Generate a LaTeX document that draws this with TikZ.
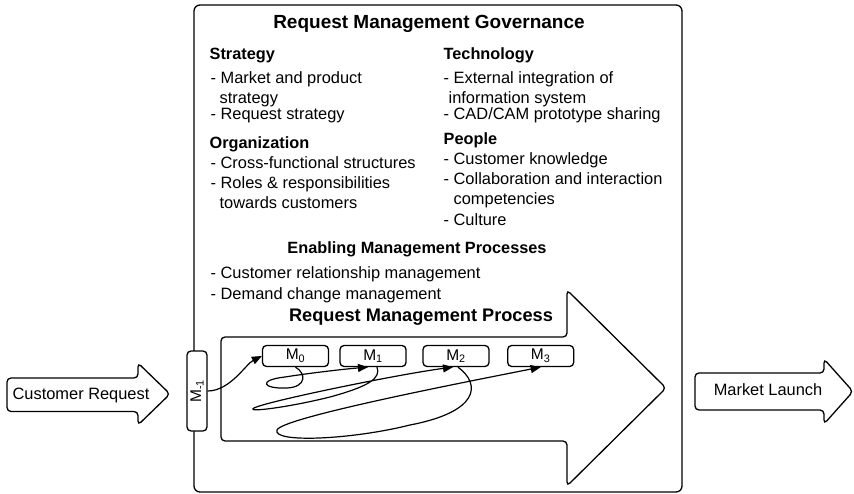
\documentclass[tikz,border=0pt]{standalone}
\usepackage{fontspec}
\setmainfont{Liberation Sans}
\usetikzlibrary{arrows.meta}
\begin{document}
\begin{tikzpicture}[x=1pt,y=-1pt,line width=1.3pt,
  txt/.style={anchor=base west,inner sep=0pt,font=\fontsize{16.4}{19}\selectfont},
  head/.style={txt,font=\fontsize{16.3}{19}\selectfont\bfseries},
  mbox/.style={draw,rounded corners=4pt,fill=white,minimum width=66pt,minimum height=21pt,inner sep=0pt,font=\fontsize{15.5}{18}\selectfont},
  flow/.style={line width=1.2pt,-{Triangle[length=10pt,width=8pt]}}]
  \useasboundingbox (0,0) rectangle (854,494);
  % governance box
  \draw[rounded corners=6pt] (194,5) rectangle (682,492);
  \node[anchor=base,inner sep=0pt,font=\fontsize{19}{22}\selectfont\bfseries] (gov) at (429,29) {Request Management Governance};
  \node[head] (strat) at (209,60) {Strategy};
  \node[txt] (s1) at (210,83.5) {- Market and product};
  \node[txt] (s1b) at (219,103.5) {strategy};
  \node[txt] (s2) at (210,120) {- Request strategy};
  \node[head] (org) at (209,149) {Organization};
  \node[txt] (o1) at (210,168.5) {- Cross-functional structures};
  \node[txt] (o2) at (210,188.5) {- Roles \& responsibilities};
  \node[txt] (o2b) at (219,208.5) {towards customers};
  \node[head] (tech) at (443,60) {Technology};
  \node[txt] (t1) at (443,83.5) {- External integration of};
  \node[txt] (t1b) at (448,103.5) {information system};
  \node[txt] (t2) at (443,120) {- CAD/CAM prototype sharing};
  \node[head] (peop) at (443,145) {People};
  \node[txt] (p1) at (443,165) {- Customer knowledge};
  \node[txt] (p2) at (443,185) {- Collaboration and interaction};
  \node[txt] (p2b) at (453,205) {competencies};
  \node[txt] (p3) at (443,226) {- Culture};
  \node[head,anchor=base] (enab) at (417,253.3) {Enabling Management Processes};
  \node[txt] (e1) at (210,278.3) {- Customer relationship management};
  \node[txt] (e2) at (210,299.3) {- Demand change management};
  % process arrow
  \draw[rounded corners=4pt,fill=white] (221,337) -- (567,337) -- (567,290) -- (666,388) -- (567,486) -- (567,441) -- (221,441) -- cycle;
  \node[head,anchor=base,font=\fontsize{18.2}{21}\selectfont\bfseries] (proc) at (421,321.7) {Request Management Process};
  % outer arrows
  \draw[rounded corners=4pt] (7,378) -- (138,378) -- (138,363) -- (170,394) -- (138,425) -- (138,411.5) -- (7,411.5) -- cycle;
  \node[txt,anchor=base] (req) at (81,399.3) {Customer Request};
  \draw[rounded corners=4pt] (695,373) -- (824,373) -- (824,359) -- (853,391.5) -- (824,424) -- (824,410) -- (695,410) -- cycle;
  \node[txt,anchor=base] (launch) at (768,395.5) {Market Launch};
  % milestones
  \node[mbox,minimum width=20pt,minimum height=80pt] (mneg) at (197,391) {\rotatebox{90}{M\textsubscript{-1}}};
  \node[mbox] (m0) at (295.5,356) {M\textsubscript{0}};
  \node[mbox] (m1) at (373,356) {M\textsubscript{1}};
  \node[mbox] (m2) at (456,356) {M\textsubscript{2}};
  \node[mbox] (m3) at (540.7,356) {M\textsubscript{3}};
  \draw[flow] (mneg.east) .. controls (230,391) and (246,364) .. (m0.west);
  \draw[flow] (m0.south) .. controls (306,373) and (307,387) .. (287,388) .. controls (262,389) and (258,380) .. (285,377) .. controls (310,373) and (345,369) .. ([xshift=-5pt]m1.south);
  \draw[flow] ([xshift=4pt]m1.south) .. controls (381,378) and (370,386) .. (330,397) .. controls (290,407) and (245,413) .. (254,408) .. controls (268,401) and (400,374) .. ([xshift=-3pt]m2.south);
  \draw[flow] ([xshift=2pt]m2.south) .. controls (482,385) and (478,412) .. (410,425) .. controls (350,440) and (272,443) .. (277,430) .. controls (282,418) and (450,385) .. (m3.south);
\end{tikzpicture}
\end{document}
